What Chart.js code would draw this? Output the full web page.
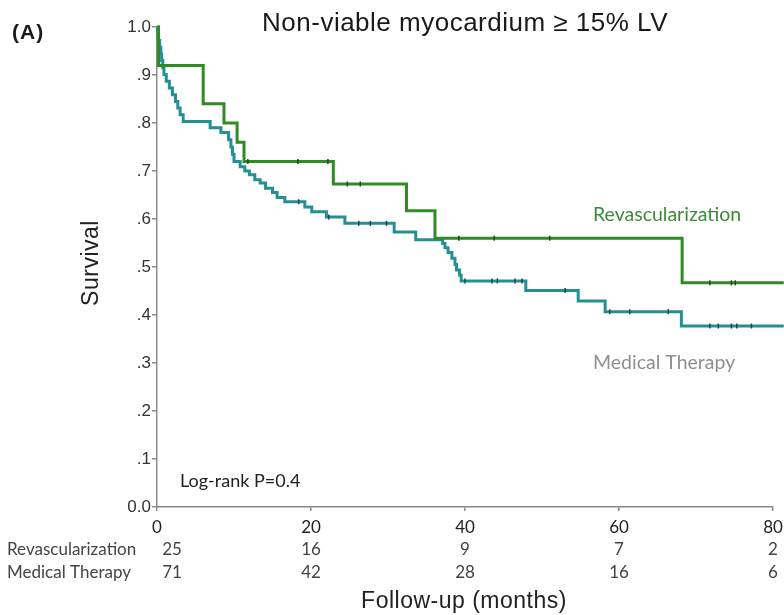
<!DOCTYPE html>
<html>
<head>
<meta charset="utf-8">
<script src="https://cdn.jsdelivr.net/npm/chart.js@4/dist/chart.umd.min.js"></script>
<style>
  html, body { margin: 0; padding: 0; background: #fff; }
  #wrap { width: 784px; height: 615px; position: relative; }
</style>
</head>
<body>
<div id="wrap"><canvas id="km" width="784" height="615"></canvas></div>
<script>
// Kaplan–Meier steps: month of each drop and the survival right after it
const revascMonths   = [0, 0.2, 6.0, 8.7, 10.4, 11.3, 22.9, 32.4, 36.1, 68.2, 81.4];
const revascSurvival = [1.0, 0.92, 0.84, 0.80, 0.76, 0.72, 0.673, 0.617, 0.56, 0.467, 0.467];
const revascCensored = [11.8, 18.3, 22.2, 24.7, 26.4, 39.2, 43.8, 51.0, 71.8, 74.6, 75.1];

const medMonths   = [0, 0.1, 0.2, 0.35, 0.5, 0.6, 0.75, 0.9, 1.2, 1.6, 2.0, 2.4, 2.7, 3.0, 3.4,
                     6.9, 8.3, 9.3, 9.6, 9.8, 10.0, 10.8, 11.4, 12.0, 12.7, 13.4, 14.1, 15.0, 15.6,
                     16.6, 19.2, 20.1, 22.0, 24.4, 30.8, 33.6, 37.1, 37.4, 37.8, 38.3, 38.7, 38.9,
                     39.3, 39.5, 47.9, 54.7, 58.2, 68.1, 81.4];
const medSurvival = [1.0, 0.986, 0.972, 0.958, 0.944, 0.930, 0.915, 0.901, 0.887, 0.873, 0.859, 0.845, 0.831, 0.817, 0.803,
                     0.790, 0.780, 0.765, 0.750, 0.735, 0.720, 0.709, 0.700, 0.692, 0.682, 0.675, 0.664, 0.655, 0.645,
                     0.636, 0.625, 0.615, 0.604, 0.591, 0.573, 0.557, 0.549, 0.540, 0.530, 0.518, 0.505, 0.494,
                     0.483, 0.471, 0.451, 0.429, 0.407, 0.377, 0.377];
const medCensored = [18.4, 22.3, 26.2, 27.7, 29.8, 40.0, 43.5, 44.2, 46.5, 47.4, 53.0, 58.8, 61.4,
                     66.4, 71.8, 72.9, 74.6, 75.3, 77.2];

// Axis ticks and numbers at risk
const xTicks      = [0, 20, 40, 60, 80];
const yTickLabels = ['0.0', '.1', '.2', '.3', '.4', '.5', '.6', '.7', '.8', '.9', '1.0'];
const riskGroups  = ['Revascularization', 'Medical Therapy'];
const riskRevasc  = [25, 16, 9, 7, 2];
const riskMedical = [71, 42, 28, 16, 6];

const GREEN = '#2f8c22';
const TEAL  = '#268f94';

function steps(months, surv) {
  return months.map((m, i) => ({ x: m, y: surv[i] }));
}
function survivalAt(months, surv, t) {
  let v = surv[0];
  for (let i = 0; i < months.length; i++) { if (months[i] <= t) v = surv[i]; }
  return v;
}
function censorPoints(times, months, surv) {
  return times.map(t => ({ x: t, y: survivalAt(months, surv, t) }));
}

const LEFT = 157, TOP = 27, RIGHT = 773, BOTTOM = 507, W = 784, H = 615;
const SANS = '"Liberation Sans", Arial, sans-serif';
const HUMANIST = 'Lato, "Open Sans", sans-serif';

const overlay = {
  id: 'overlay',
  afterDraw(chart) {
    const ctx = chart.ctx;
    const xs = chart.scales.x;
    ctx.save();

    // title and panel letter
    ctx.fillStyle = '#1a1a1a';
    ctx.textBaseline = 'alphabetic';
    ctx.textAlign = 'center';
    ctx.letterSpacing = '0.5px';
    ctx.font = '26px ' + SANS;
    ctx.fillText('Non-viable myocardium \u2265 15% LV', 465, 31);
    ctx.textAlign = 'left';
    ctx.letterSpacing = '1px';
    ctx.font = 'bold 21px ' + SANS;
    ctx.fillText('(A)', 12, 39);

    // y axis title
    ctx.save();
    ctx.translate(92, 263);
    ctx.rotate(-Math.PI / 2);
    ctx.textAlign = 'center';
    ctx.textBaseline = 'middle';
    ctx.letterSpacing = '0.5px';
    ctx.font = '23px ' + SANS;
    ctx.fillStyle = '#222';
    ctx.fillText('Survival', 0, 0);
    ctx.restore();

    // x axis title
    ctx.textAlign = 'center';
    ctx.textBaseline = 'alphabetic';
    ctx.letterSpacing = '0.5px';
    ctx.font = '23px ' + SANS;
    ctx.fillStyle = '#222';
    ctx.fillText('Follow-up (months)', 464, 608);
    ctx.letterSpacing = '0px';

    // log-rank note
    ctx.textAlign = 'left';
    ctx.textBaseline = 'middle';
    ctx.font = '18px ' + HUMANIST;
    ctx.fillStyle = '#222';
    ctx.fillText('Log-rank P=0.4', 180, 481);

    // curve labels
    ctx.font = '19.5px ' + HUMANIST;
    ctx.fillStyle = '#3c8a3c';
    ctx.fillText('Revascularization', 593, 215);
    ctx.fillStyle = '#8e8e8e';
    ctx.fillText('Medical Therapy', 593, 363);

    // numbers at risk
    ctx.font = '17px ' + HUMANIST;
    ctx.fillStyle = '#444';
    const rowY = [550, 573];
    const rows = [riskRevasc, riskMedical];
    riskGroups.forEach((g, r) => {
      ctx.textAlign = 'left';
      ctx.fillText(g, 7, rowY[r]);
      ctx.textAlign = 'center';
      rows[r].forEach((n, i) => {
        let px = xs.getPixelForValue(xTicks[i]);
        if (i === 0) px += 15;
        ctx.fillText(String(n), px, rowY[r]);
      });
    });
    ctx.restore();
  }
};

new Chart(document.getElementById('km'), {
  type: 'line',
  data: {
    datasets: [
      {
        label: 'Revascularization',
        data: steps(revascMonths, revascSurvival),
        borderColor: GREEN, borderWidth: 3, stepped: 'before',
        pointRadius: 0, fill: false, clip: false, order: 2
      },
      {
        label: 'Medical Therapy',
        data: steps(medMonths, medSurvival),
        borderColor: TEAL, borderWidth: 3, stepped: 'before',
        pointRadius: 0, fill: false, clip: false, order: 3
      },
      {
        label: 'Revascularization censored',
        data: censorPoints(revascCensored, revascMonths, revascSurvival),
        showLine: false, pointStyle: 'line', rotation: 90, pointRadius: 2.5,
        borderColor: '#24401f', pointBorderWidth: 1.5, clip: false, order: 0
      },
      {
        label: 'Medical Therapy censored',
        data: censorPoints(medCensored, medMonths, medSurvival),
        showLine: false, pointStyle: 'line', rotation: 90, pointRadius: 2.5,
        borderColor: '#1d4548', pointBorderWidth: 1.5, clip: false, order: 1
      }
    ]
  },
  options: {
    responsive: false,
    animation: false,
    devicePixelRatio: 1,
    layout: { padding: { left: 0, top: TOP, right: W - RIGHT, bottom: 0 } },
    plugins: { legend: { display: false }, tooltip: { enabled: false }, title: { display: false } },
    scales: {
      x: {
        type: 'linear', min: 0, max: 80,
        afterBuildTicks: s => { s.ticks = xTicks.map(v => ({ value: v })); },
        afterFit: s => { s.height = H - BOTTOM; s.paddingLeft = 0; s.paddingRight = 0; },
        border: { color: '#8a8a8a', width: 1.5 },
        grid: { drawOnChartArea: false, drawTicks: true, tickLength: 4, color: '#8a8a8a', lineWidth: 1.5 },
        ticks: { padding: 6, color: '#222', font: { family: HUMANIST, size: 17 }, maxRotation: 0 }
      },
      y: {
        type: 'linear', min: 0, max: 1,
        afterBuildTicks: s => { s.ticks = yTickLabels.map((_, i) => ({ value: i / 10 })); },
        afterFit: s => { s.width = LEFT; s.paddingTop = 0; s.paddingBottom = 0; },
        border: { color: '#8a8a8a', width: 1.5 },
        grid: { drawOnChartArea: false, drawTicks: true, tickLength: 5, color: '#8a8a8a', lineWidth: 1.5 },
        ticks: {
          padding: 1, color: '#333',
          font: { family: SANS, size: 17 },
          callback: (v, i) => yTickLabels[i]
        }
      }
    }
  },
  plugins: [overlay]
});
</script>
</body>
</html>
